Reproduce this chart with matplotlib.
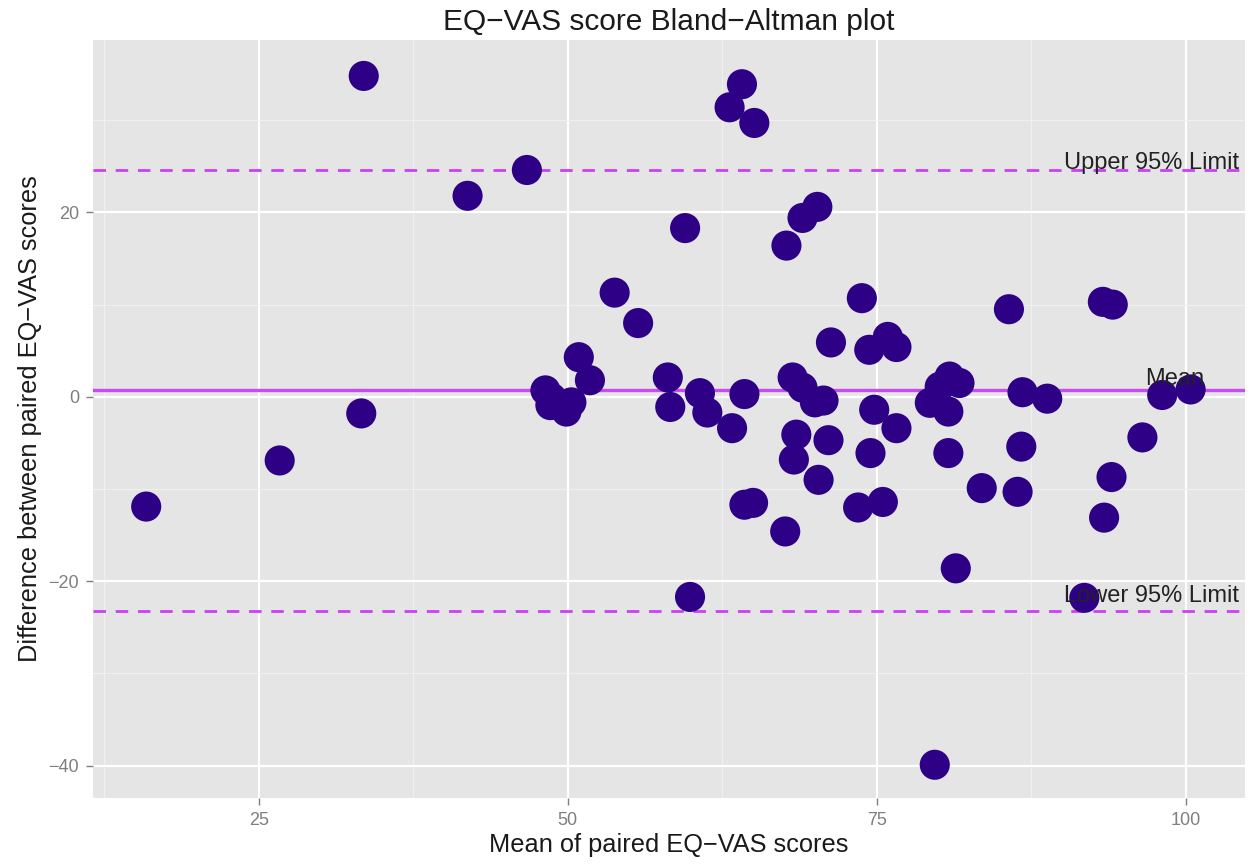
import matplotlib.pyplot as plt
from matplotlib.ticker import MultipleLocator

plt.rcParams['font.family'] = ['Liberation Sans', 'DejaVu Sans']

# mean of paired scores (x) and difference between paired scores (y)
mean_scores = [15.9, 26.7, 33.5, 33.3, 41.9, 46.7,
               48.2, 48.7, 49.3, 49.9, 50.3, 48.6,
               50.9, 51.8, 53.8, 55.7, 58.1, 58.3, 60.7, 61.3, 63.3, 64.3,
               64.3, 65.0, 67.6, 68.2, 69.0, 70.0, 70.7, 68.5, 68.3, 71.1,
               70.3, 71.3, 73.8, 73.5, 74.4, 75.9, 76.6, 74.8, 76.6, 74.5,
               75.5, 85.7, 93.3, 94.1, 79.3, 80.1, 80.9, 81.7, 80.8, 86.8,
               88.8, 86.7, 80.8, 83.5, 86.4, 98.1, 100.4, 96.5, 94.0, 93.4,
               81.4, 59.9, 91.8, 79.7, 63.1, 64.1, 65.1, 59.5, 67.7, 69.0, 70.2]
diff_scores = [-11.9, -6.9, 34.8, -1.8, 21.8, 24.6,
               0.7, -0.1, -0.9, -1.6, -0.6, -0.9,
               4.3, 1.8, 11.3, 8.0, 2.1, -1.1, 0.4, -1.7, -3.4, 0.3,
               -11.7, -11.5, -14.6, 2.1, 1.0, -0.6, -0.4, -4.1, -6.8, -4.7,
               -9.0, 5.9, 10.7, -12.0, 5.1, 6.5, 5.4, -1.4, -3.4, -6.1,
               -11.4, 9.5, 10.3, 10.0, -0.65, 1.1, 2.2, 1.5, -1.6, 0.5,
               -0.2, -5.4, -6.1, -9.9, -10.3, 0.2, 0.8, -4.4, -8.7, -13.1,
               -18.6, -21.7, -21.8, -39.9, 31.4, 33.9, 29.7, 18.3, 16.4, 19.4, 20.6]

mean_diff = 0.7
upper_limit = 24.6
lower_limit = -23.2

fig = plt.figure(figsize=(12.49, 8.65), dpi=100)
ax = fig.add_axes([0.0745, 0.0775, 0.9223, 0.8763])
ax.set_facecolor('#E5E5E5')

line_col = '#C94BF2'
ax.axhline(mean_diff, color=line_col, lw=2.4, zorder=1)
ax.axhline(upper_limit, color='#CC3FF5', lw=2.0, ls=(0, (4.5, 3.5)), zorder=1)
ax.axhline(lower_limit, color='#CC3FF5', lw=2.0, ls=(0, (4.5, 3.5)), zorder=1)

ax.scatter(mean_scores, diff_scores, s=470, color='#2E0086', edgecolors='none', zorder=2)

txt = dict(ha='center', va='baseline', fontsize=17, color='#222222', zorder=3)
ax.text(97.2, upper_limit + 0.1, 'Upper 95% Limit', **txt)
ax.text(99.1, mean_diff + 0.6, 'Mean', **txt)
ax.text(97.2, lower_limit + 0.9, 'Lower 95% Limit', **txt)

ax.set_xlim(11.6, 104.8)
ax.set_ylim(-43.5, 38.7)
ax.xaxis.set_major_locator(MultipleLocator(25))
ax.xaxis.set_minor_locator(MultipleLocator(12.5))
ax.yaxis.set_major_locator(MultipleLocator(20))
ax.yaxis.set_minor_locator(MultipleLocator(10))
ax.grid(which='major', color='white', lw=1.6, zorder=0)
ax.grid(which='minor', color='#F0F0F0', lw=0.8, zorder=0)
ax.set_axisbelow(True)
for s in ax.spines.values():
    s.set_visible(False)
ax.tick_params(which='major', length=5, width=1, pad=5, color='#7F7F7F', labelcolor='#7F7F7F', labelsize=13)
ax.tick_params(which='minor', length=0)

ax.set_title('EQ\u2212VAS score Bland\u2212Altman plot', fontsize=21.5, color='#1A1A1A', pad=7)
ax.set_xlabel('Mean of paired EQ\u2212VAS scores', fontsize=18.3, color='#1A1A1A', labelpad=3)
ax.set_ylabel('Difference between paired EQ\u2212VAS scores', fontsize=18.3, color='#1A1A1A', labelpad=5)

fig.savefig('out.png', dpi=100)
